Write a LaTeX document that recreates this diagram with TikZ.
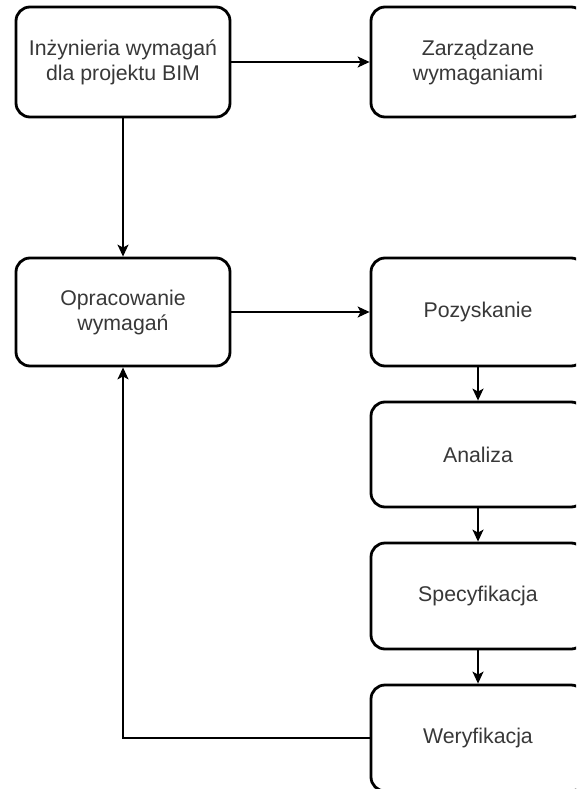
\documentclass[tikz,border=0pt]{standalone}
\usepackage{fontspec}
\setmainfont{Liberation Sans}
\usetikzlibrary{arrows.meta}
\definecolor{txt}{HTML}{383838}
\tikzset{
  box/.style={draw=black, line width=2.8pt, rounded corners=14pt, fill=white,
    minimum width=214pt, align=center, text=txt,
    font=\fontsize{21.3}{25}\selectfont, inner sep=0pt},
  link/.style={draw=black, line width=1.7pt,
    -{Stealth[length=12pt,width=11pt,inset=3pt]}}
}
\begin{document}
\begin{tikzpicture}[x=1pt,y=-1pt]
  \clip (0,0) rectangle (576,789);
  \fill[white] (0,0) rectangle (576,789);
  % left column
  \node[box, minimum height=110pt] (inz) at (123,62) {Inżynieria wymagań\\dla projektu BIM};
  \node[box, minimum height=108pt] (opr) at (123,312) {Opracowanie\\wymagań};
  % right column
  \node[box, minimum height=110pt] (zarz) at (478,62) {Zarządzane\\wymaganiami};
  \node[box, minimum height=108pt] (poz) at (478,312) {Pozyskanie};
  \node[box, minimum height=105pt] (ana) at (478,454.5) {Analiza};
  \node[box, minimum height=106pt] (spec) at (478,596) {Specyfikacja};
  \node[box, minimum height=106pt] (wer) at (478,738) {Weryfikacja};
  % connectors
  \draw[link] (inz) -- (zarz);
  \draw[link] (inz) -- (opr);
  \draw[link] (opr) -- (poz);
  \draw[link] (poz) -- (ana);
  \draw[link] (ana) -- (spec);
  \draw[link] (spec) -- (wer);
  \draw[link] (wer.west) -| (opr.south);
\end{tikzpicture}
\end{document}
